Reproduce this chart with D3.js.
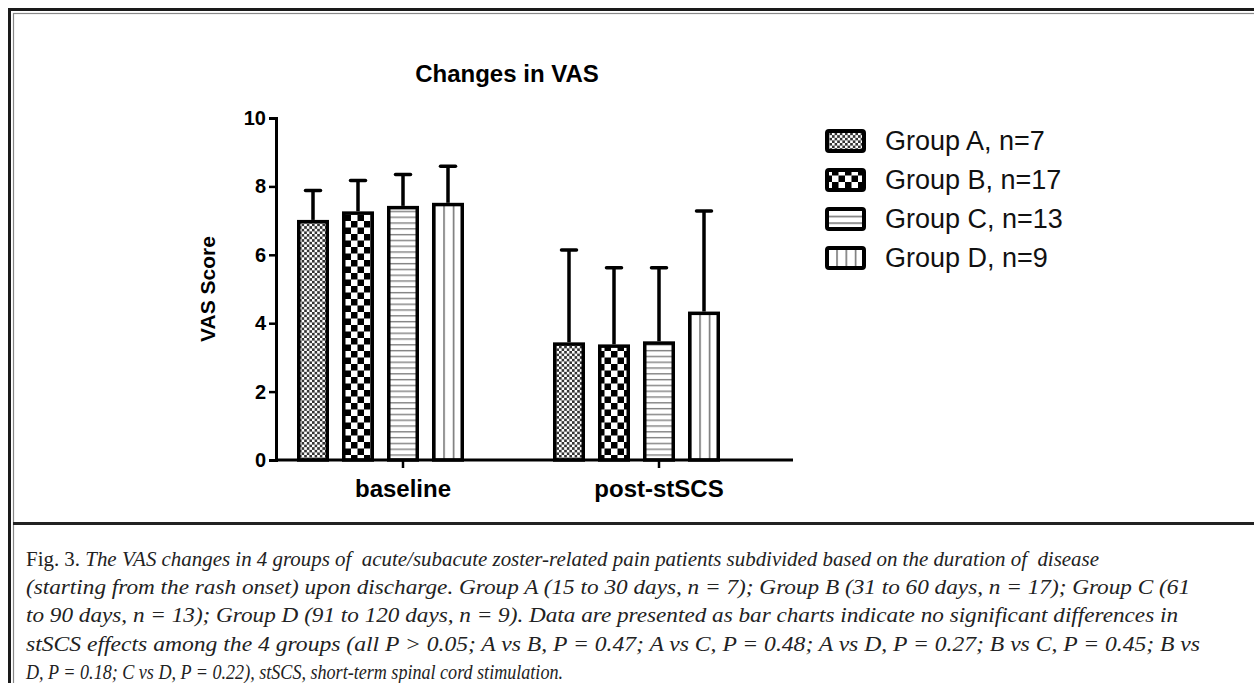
<!DOCTYPE html>
<html>
<head>
<meta charset="utf-8">
<script src="https://cdn.jsdelivr.net/npm/d3@7"></script>
<style>
  html, body { margin: 0; padding: 0; background: #fff; }
  svg { display: block; }
</style>
</head>
<body>
<svg id="chart" width="1254" height="683"></svg>
<script>
// values
const groups = ['baseline', 'post-stSCS']
const series = ['Group A, n=7', 'Group B, n=17', 'Group C, n=13', 'Group D, n=9']
const baselineMean = [7.02, 7.27, 7.43, 7.52]
const baselineSD = [0.86, 0.90, 0.92, 1.07]
const postMean = [3.44, 3.38, 3.47, 4.34]
const postSD = [2.70, 2.24, 2.15, 2.94]
const yTicks = [0, 2, 4, 6, 8, 10]
const captionLines = [
  'The VAS changes in 4 groups of  acute/subacute zoster-related pain patients subdivided based on the duration of  disease',
  '(starting from the rash onset) upon discharge. Group A (15 to 30 days, n = 7); Group B (31 to 60 days, n = 17); Group C (61',
  'to 90 days, n = 13); Group D (91 to 120 days, n = 9). Data are presented as bar charts indicate no significant differences in',
  'stSCS effects among the 4 groups (all P > 0.05; A vs B, P = 0.47; A vs C, P = 0.48; A vs D, P = 0.27; B vs C, P = 0.45; B vs',
  'D, P = 0.18; C vs D, P = 0.22), stSCS, short-term spinal cord stimulation.'
]
const captionEnds = [1099, 1190, 1178, 1200, 563]

const svg = d3.select('#chart')
const defs = svg.append('defs')

// fill patterns
function checker(id, size, color) {
  const p = defs.append('pattern').attr('id', id)
    .attr('patternUnits', 'userSpaceOnUse').attr('width', size * 2).attr('height', size * 2)
  p.append('rect').attr('width', size * 2).attr('height', size * 2).attr('fill', '#fff')
  p.append('rect').attr('width', size).attr('height', size).attr('fill', color)
  p.append('rect').attr('x', size).attr('y', size).attr('width', size).attr('height', size).attr('fill', color)
}
checker('patA', 2.6, '#333')
checker('patB', 6.5, '#000')

const pc = defs.append('pattern').attr('id', 'patC')
  .attr('patternUnits', 'userSpaceOnUse').attr('width', 10).attr('height', 5.8)
pc.append('rect').attr('width', 10).attr('height', 5.8).attr('fill', '#fff')
pc.append('rect').attr('y', 2).attr('width', 10).attr('height', 1.3).attr('fill', '#777')

function vlines(id, frac) {
  const p = defs.append('pattern').attr('id', id)
    .attr('patternUnits', 'objectBoundingBox').attr('width', frac).attr('height', 1)
  p.append('rect').attr('width', 60).attr('height', 600).attr('fill', '#fff')
  p.append('rect').attr('x', 0).attr('width', 1.6).attr('height', 600).attr('fill', '#777')
}
vlines('patD', 1 / 3)
vlines('patDleg', 1 / 4)

const lpc = defs.append('pattern').attr('id', 'patCleg')
  .attr('patternUnits', 'objectBoundingBox').attr('width', 1).attr('height', 1 / 3)
lpc.append('rect').attr('width', 60).attr('height', 30).attr('fill', '#fff')
lpc.append('rect').attr('width', 60).attr('height', 1.6).attr('fill', '#777')

const fills = ['url(#patA)', 'url(#patB)', 'url(#patC)', 'url(#patD)']
const legendFills = ['url(#patA)', 'url(#patB)', 'url(#patCleg)', 'url(#patDleg)']

// frame
svg.append('rect').attr('x', 9.5).attr('y', 9.5).attr('width', 1260).attr('height', 700)
  .attr('fill', 'none').attr('stroke', '#1a1a1a').attr('stroke-width', 3)
svg.append('rect').attr('x', 13.5).attr('y', 13.5).attr('width', 1260).attr('height', 700)
  .attr('fill', 'none').attr('stroke', '#888').attr('stroke-width', 1.2)
svg.append('line').attr('x1', 13).attr('x2', 1254).attr('y1', 523.5).attr('y2', 523.5)
  .attr('stroke', '#222').attr('stroke-width', 3)

// scales
const y = d3.scaleLinear().domain([0, 10]).range([460, 118])
const x0 = d3.scaleBand().domain(groups).range([297, 778]).paddingInner(31 / 256).paddingOuter(0)
const x1 = d3.scaleBand().domain([...series, 'gap']).range([0, 212]).paddingInner(13 / 45).paddingOuter(0)

const rows = []
groups.forEach((g, gi) => {
  const means = gi === 0 ? baselineMean : postMean
  const sds = gi === 0 ? baselineSD : postSD
  series.forEach((s, si) => rows.push({ g, s, si, mean: means[si], sd: sds[si] }))
})

const font = 'Arial, "Liberation Sans", Helvetica, sans-serif'

// title
svg.append('text').attr('x', 507).attr('y', 82).attr('text-anchor', 'middle')
  .attr('font-family', font).attr('font-weight', 'bold').attr('font-size', 24)
  .text('Changes in VAS')

// error bars
const err = svg.append('g').attr('stroke', '#000').attr('stroke-width', 3.5)
rows.forEach(d => {
  const cx = x0(d.g) + x1(d.s) + x1.bandwidth() / 2
  err.append('line').attr('x1', cx).attr('x2', cx).attr('y1', y(d.mean)).attr('y2', y(d.mean + d.sd))
  err.append('line').attr('x1', cx - 7.5).attr('x2', cx + 7.5).attr('y1', y(d.mean + d.sd)).attr('y2', y(d.mean + d.sd))
    .attr('stroke-linecap', 'round')
})

// bars
svg.append('g').selectAll('rect').data(rows).join('rect')
  .attr('x', d => x0(d.g) + x1(d.s) + 1.75)
  .attr('y', d => y(d.mean) + 1.75)
  .attr('width', x1.bandwidth() - 3.5)
  .attr('height', d => y(0) - y(d.mean) - 1.75)
  .attr('fill', d => fills[d.si])
  .attr('stroke', '#000').attr('stroke-width', 3.5)

// y axis
const yAxis = svg.append('g').attr('transform', 'translate(276,0)')
  .call(d3.axisLeft(y).tickValues(yTicks).tickSize(7).tickPadding(3))
yAxis.select('.domain').attr('stroke-width', 3)
yAxis.selectAll('.tick line').attr('stroke-width', 2.5)
yAxis.selectAll('text').attr('font-family', font).attr('font-weight', 'bold').attr('font-size', 20).attr('fill', '#000')

// x axis
const xAxis = svg.append('g')
xAxis.append('line').attr('x1', 276).attr('x2', 793).attr('y1', y(0)).attr('y2', y(0))
  .attr('stroke', '#000').attr('stroke-width', 3)
groups.forEach(g => {
  const tx = x0(g) + x1('Group C, n=13') + x1.bandwidth() / 2
  xAxis.append('line').attr('x1', tx).attr('x2', tx).attr('y1', y(0)).attr('y2', y(0) + 8)
    .attr('stroke', '#000').attr('stroke-width', 2.5)
  xAxis.append('text').attr('x', tx).attr('y', 497).attr('text-anchor', 'middle')
    .attr('font-family', font).attr('font-weight', 'bold').attr('font-size', 24).text(g)
})

// y label
svg.append('text').attr('transform', 'translate(215,289) rotate(-90)').attr('text-anchor', 'middle')
  .attr('font-family', font).attr('font-weight', 'bold').attr('font-size', 21).text('VAS Score')

// legend
const leg = svg.append('g')
series.forEach((s, i) => {
  const cy = 141 + i * 39
  leg.append('rect').attr('x', 827).attr('y', cy - 10).attr('width', 37).attr('height', 20)
    .attr('rx', 2).attr('fill', legendFills[i]).attr('stroke', '#000').attr('stroke-width', 4)
  leg.append('text').attr('x', 885).attr('y', cy + 9)
    .attr('font-family', font).attr('font-size', 27).attr('fill', '#111').text(s)
})

// caption, each line stretched to where it ends in the figure
const cap = svg.append('g').attr('font-family', '"Liberation Serif", "DejaVu Serif", serif')
  .attr('font-size', 22).attr('fill', '#222')
captionLines.forEach((line, i) => {
  const t = cap.append('text').attr('x', 26).attr('y', 566 + i * 28.2)
    .attr('xml:space', 'preserve')
    .attr('textLength', captionEnds[i] - 26).attr('lengthAdjust', 'spacingAndGlyphs')
  if (i === 0) t.append('tspan').text('Fig. 3. ')
  t.append('tspan').attr('font-style', 'italic').text(line)
})
</script>
</body>
</html>
